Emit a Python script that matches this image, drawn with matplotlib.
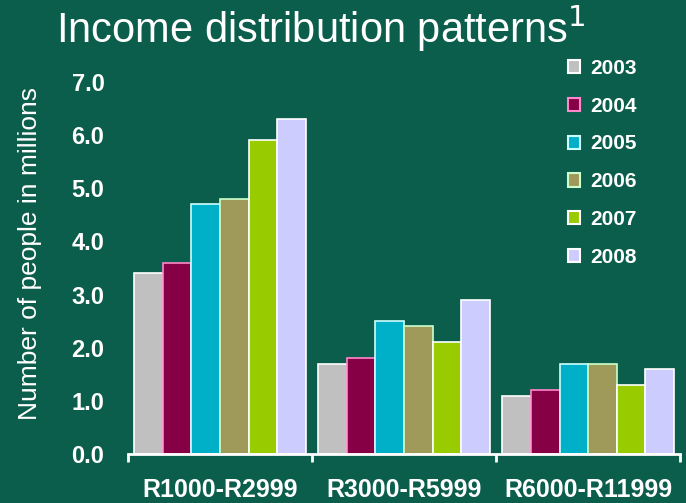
import numpy as np
import matplotlib
matplotlib.use('Agg')
import matplotlib.pyplot as plt
from matplotlib.patches import Patch

# Data (millions of people)
categories = ['R1000-R2999', 'R3000-R5999', 'R6000-R11999']
years = ['2003', '2004', '2005', '2006', '2007', '2008']
values = {
    '2003': [3.4, 1.7, 1.1],
    '2004': [3.6, 1.8, 1.2],
    '2005': [4.7, 2.5, 1.7],
    '2006': [4.8, 2.4, 1.7],
    '2007': [5.9, 2.1, 1.3],
    '2008': [6.3, 2.9, 1.6],
}
colors = ['#c0c0c0', '#850045', '#00b0c8', '#a09a5a', '#99cc00', '#ccccff']
edges = ['white', '#ff88cc', '#ccffff', '#ccffcc', 'white', 'white']

plt.rcParams['font.family'] = ['Liberation Sans', 'DejaVu Sans']
bg = '#0b5e4b'

fig = plt.figure(figsize=(6.86, 5.03), dpi=100, facecolor=bg)
ax = fig.add_axes([0.1866, 0.0974, 0.8047, 0.7396])
ax.set_facecolor('none')

x = np.arange(len(categories))
w = 0.155
for i, yr in enumerate(years):
    ax.bar(x + (i - 2.5) * w, values[yr], width=w, color=colors[i],
           edgecolor=edges[i], linewidth=1.2, label=yr)

ax.set_xlim(-0.5, 2.5)
ax.set_ylim(0, 7)
for s in ['top', 'right', 'left']:
    ax.spines[s].set_visible(False)
ax.spines['bottom'].set_color('white')
ax.spines['bottom'].set_linewidth(2)

# group separators as major ticks, category names as minor ticks
ax.set_xticks([-0.5, 0.5, 1.5, 2.5])
ax.set_xticklabels([])
ax.tick_params(axis='x', which='major', direction='out', length=6, width=2, color='white')
ax.set_xticks(x, minor=True)
ax.set_xticklabels(categories, minor=True, fontsize=18, fontweight='bold', color='white')
ax.tick_params(axis='x', which='minor', length=0, pad=17)

ax.set_yticks(np.arange(0, 8, 1))
ax.set_yticklabels(['%.1f' % v for v in np.arange(0, 8, 1)],
                   fontsize=17, fontweight='bold', color='white')
ax.tick_params(axis='y', length=0, pad=17)

ax.set_ylabel('Number of people in millions', fontsize=19, color='white')
ax.yaxis.set_label_coords(-0.156, 0.54)

fig.text(0.081, 0.944, 'Income distribution patterns$^1$', fontsize=30,
         color='white', ha='left', va='center')

handles = [Patch(facecolor=colors[i], edgecolor=edges[i], linewidth=1.5) for i in range(6)]
leg = fig.legend(handles, years, loc='upper left', bbox_to_anchor=(0.8, 0.92),
                 frameon=False, handlelength=0.6, handleheight=0.6, handletextpad=0.5,
                 labelspacing=0.9, prop={'size': 15, 'weight': 'bold'})
for t in leg.get_texts():
    t.set_color('white')

fig.savefig('out.png', dpi=100, facecolor=bg)
